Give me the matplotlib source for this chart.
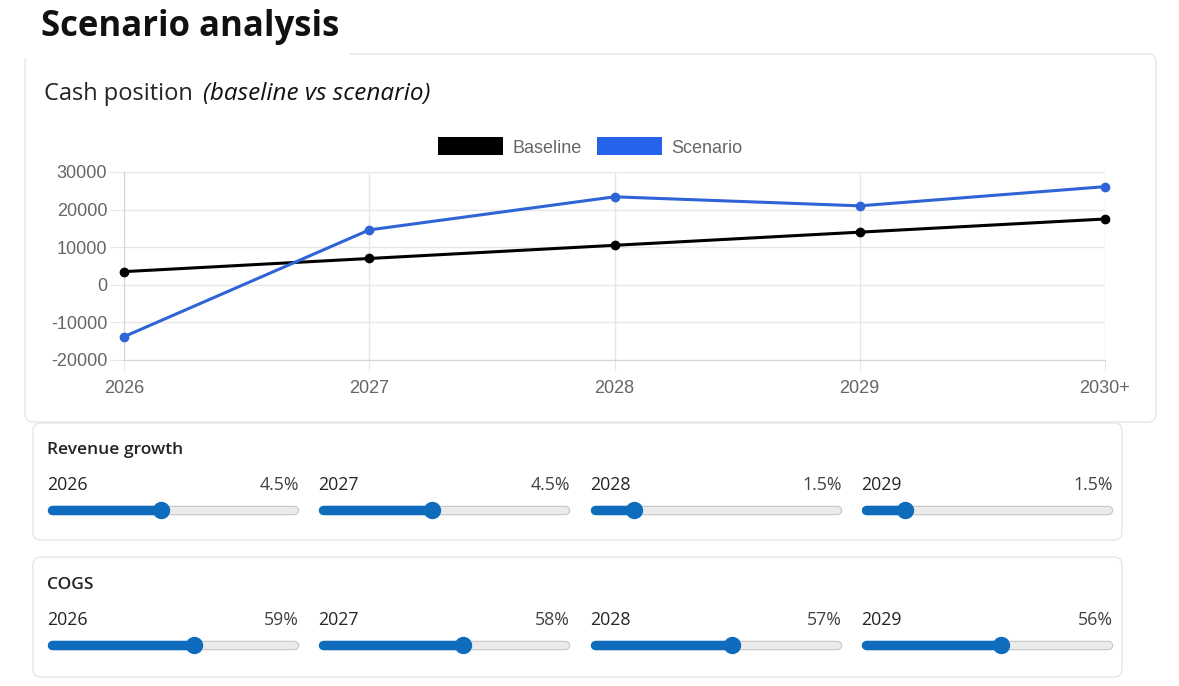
import matplotlib
matplotlib.use('Agg')
import matplotlib.pyplot as plt
from matplotlib.patches import FancyBboxPatch, Rectangle, Patch

W, H = 1179, 686

# chart data
years = ['2026', '2027', '2028', '2029', '2030+']
baseline = [3500, 7000, 10500, 14000, 17500]
scenario = [-13800, 14600, 23400, 21000, 26100]

# slider data
slider_years = ['2026', '2027', '2028', '2029']
revenue_growth = [4.5, 4.5, 1.5, 1.5]
revenue_range = (0, 10)
cogs = [59, 58, 57, 56]
cogs_range = (0, 100)

ui_font = 'Open Sans'
chart_font = 'Liberation Sans'
blue_line = '#2f64d6'
blue_box = '#2563eb'
slider_blue = '#0f6cbd'

plt.rcParams['axes.unicode_minus'] = False

fig = plt.figure(figsize=(W / 100, H / 100), dpi=100)


def px_rect(x0, y0, x1, y1):
    return [x0 / W, 1 - y1 / H, (x1 - x0) / W, (y1 - y0) / H]


# background layer in pixel units
bg = fig.add_axes([0, 0, 1, 1])
bg.set_xlim(0, W)
bg.set_ylim(H, 0)
bg.axis('off')


def card(x0, y0, x1, y1):
    bg.add_patch(FancyBboxPatch((x0, y0), x1 - x0, y1 - y0,
                                boxstyle='round,pad=0,rounding_size=8',
                                facecolor='white', edgecolor='#e6e6e6', lw=1))


card(25, 54, 1156, 422)
bg.add_patch(Rectangle((0, 0), 350, 58, facecolor='white', edgecolor='none'))
card(33, 423, 1122, 540)
card(33, 557, 1122, 677)

bg.text(41, 27, 'Scenario analysis', fontfamily=ui_font, fontweight='bold',
        fontsize=25, color='#111111', va='center')
bg.text(44, 94, 'Cash position', fontfamily=ui_font, fontsize=17,
        color='#242424', va='center')
bg.text(203, 94, '(baseline vs scenario)', fontfamily=ui_font, style='italic',
        fontsize=17.5, color='#111111', va='center')

# line chart
ax = fig.add_axes(px_rect(124, 172, 1105, 360))
x = range(len(years))
ax.plot(x, baseline, color='black', lw=2.2, marker='o', ms=6, clip_on=False, zorder=3)
ax.plot(x, scenario, color=blue_line, lw=2.2, marker='o', ms=6, clip_on=False, zorder=4)
ax.set_xlim(0, len(years) - 1)
ax.set_ylim(-20000, 30000)
ax.set_yticks(range(-20000, 30001, 10000))
ax.set_xticks(list(x), years)
ax.set_facecolor('none')
ax.grid(color='#e6e6e6', lw=1)
ax.set_axisbelow(True)
for s in ['top', 'right']:
    ax.spines[s].set_visible(False)
for s in ['left', 'bottom']:
    ax.spines[s].set_color('#d4d4d4')
ax.tick_params(axis='y', length=10, color='#e6e6e6', pad=2)
ax.tick_params(axis='x', length=8, color='#e6e6e6', pad=6.5)
for lab in ax.get_xticklabels() + ax.get_yticklabels():
    lab.set_fontfamily(chart_font)
    lab.set_fontsize(13)
    lab.set_color('#666666')

handles = [Patch(facecolor='black', label='Baseline'),
           Patch(facecolor=blue_box, label='Scenario')]
fig.legend(handles=handles, loc='center', ncol=2, frameon=False,
           bbox_to_anchor=(590 / W, 1 - 147 / H), bbox_transform=fig.transFigure,
           prop={'family': chart_font, 'size': 13}, labelcolor='#666666',
           handlelength=3.6, handleheight=1.15, handletextpad=0.5, columnspacing=0.85)

# sliders
col_x = [48, 319, 591, 862]
track_w = 250


def slider_row(title, title_y, values, vrange, fmt, label_y, track_y):
    bg.text(47, title_y, title, fontfamily=ui_font, fontweight='semibold',
            fontsize=12.5, color='#242424', va='center')
    vmin, vmax = vrange
    pad = (vmax - vmin) * 8 / (track_w - 16)
    for x0, yr, v in zip(col_x, slider_years, values):
        bg.text(x0 - 1, label_y, yr, fontfamily=ui_font, fontsize=12.8,
                color='#242424', va='center')
        bg.text(x0 + track_w + 1, label_y, fmt.format(v), fontfamily=ui_font,
                fontsize=12.8, color='#424242', va='center', ha='right')
        sax = fig.add_axes(px_rect(x0, track_y - 10, x0 + track_w, track_y + 10))
        sax.set_xlim(vmin - pad, vmax + pad)
        sax.set_ylim(-1, 1)
        sax.axis('off')
        ends = [vmin - pad / 2, vmax + pad / 2]
        sax.plot(ends, [0, 0], color='#c6c6c6', lw=6.8, solid_capstyle='round', clip_on=False)
        sax.plot(ends, [0, 0], color='#ebebeb', lw=5.2, solid_capstyle='round', clip_on=False)
        sax.plot([vmin - pad / 2, v], [0, 0], color=slider_blue, lw=6.8,
                 solid_capstyle='round', clip_on=False)
        sax.plot([v], [0], 'o', color=slider_blue, ms=11.5, clip_on=False)


slider_row('Revenue growth', 450, revenue_growth, revenue_range, '{:.1f}%', 485, 510)
slider_row('COGS', 585, cogs, cogs_range, '{:.0f}%', 620, 645)

fig.savefig('out.png', dpi=100)
